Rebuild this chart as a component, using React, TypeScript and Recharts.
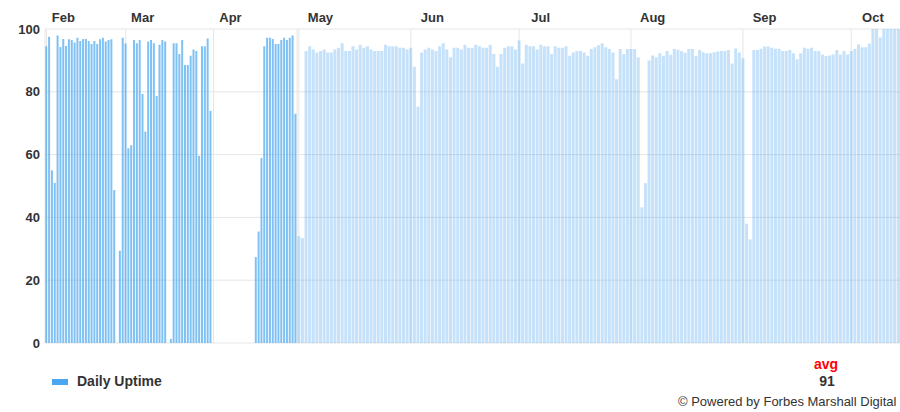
import React from 'react';
import { Bar, BarChart, CartesianGrid, XAxis, YAxis } from 'recharts';

// daily uptime %, one value per day, null = no data
const febUptime = [
  94.5, 97.5, 55, 51, 97.9, 94.3, 96.8, 94.6, 96.7, 96.5, 95.7, 97.2, 96.2, 96.8,
  96.8, 96.2, 95.2, 96.2, 95.2, 96.7, 97.2, 96.0, 96.5, 96.7, 48.7, null, 29.4, 97.2,
];
const marUptime = [
  95.4, 62, 63, 96.5, 95.5, 96.5, 79.3, 67.3, 96, 96.5, 95.5, 78.7, 95, 96.5, 96, null,
  1.3, 95.5, 95.5, 92, 96.5, 88.5, 88.5, 91.5, 93.5, 93, 59.6, 94.5, 94.5, 97, 73.9,
];
const aprUptime = [
  null, null, null, null, null, null, null, null, null, null, null, null, null, null, null,
  27.4, 35.5, 58.9, 94.5, 97.2, 97.2, 96.8, 95.2, 95.2, 96.5, 97.2, 96.5, 97.2, 97.9, 73,
];
const mayUptime = [
  34, 33.4, 93, 94.5, 93.5, 92.5, 93, 93.5, 92.5, 92.5, 93.5, 94, 95.5, 93, 93, 94.5,
  93.5, 95, 94, 94.5, 93.5, 93, 93, 93, 95, 94.5, 94.5, 94.5, 94, 94, 93.5,
];
const junUptime = [
  94, 88, 75.3, 92.5, 93.5, 94, 93.5, 93, 94.5, 95.5, 93.5, 91, 94, 94, 93.5,
  95, 94, 94, 95, 94.5, 94, 94, 95, 92, 88, 92, 94, 94.5, 94.5, 93.5,
];
const julUptime = [
  96.3, 89, 95, 94.5, 94.5, 93.5, 95, 94.5, 94.5, 92, 94.5, 94, 94, 94.5, 91.5, 92.5,
  93, 93, 92.5, 91.5, 93.6, 94.2, 94.8, 95.5, 94.2, 93.6, 92.5, 84, 93.6, 92, 93.6,
];
const augUptime = [
  93.6, 93.6, 91, 43.2, 50.9, 90, 91.6, 91, 92.3, 91.5, 93, 91.8, 93.6, 93.4, 93, 92.4,
  93.6, 93.6, 91.4, 93.3, 92.6, 92.3, 92.3, 92.6, 92.8, 93, 93, 93.3, 89, 93.8, 92.5,
];
const sepUptime = [
  90.7, 38, 33, 93.3, 93.3, 93.7, 94.4, 94.4, 94.0, 93.7, 93.7, 93.0, 93.0, 93.3, 92.3,
  90.4, 92.3, 94.0, 93.7, 94.0, 93.0, 93.0, 91.9, 91.4, 91.6, 91.9, 93.3, 91.9, 93.0, 91.9,
];
const octUptime = [93.0, 93.6, 95.1, 94.2, 94.2, 95.4, 100, 100, 97.3, 100, 100, 100, 100, 100];

const yTicks = [0, 20, 40, 60, 80, 100];
const earlyGridTicks = ['Feb 1', 'Mar 1', 'Apr 1'];
const earlyLabelTicks = ['Feb 7', 'Mar 7', 'Apr 7'];
const lateGridTicks = ['May 1', 'Jun 1', 'Jul 1', 'Aug 1', 'Sep 1', 'Oct 1'];
const lateLabelTicks = ['May 7', 'Jun 7', 'Jul 7', 'Aug 7', 'Sep 7', 'Oct 7'];
const avgLabel = '91';

type Row = { day: string; uptime: number | null };

function toRows(months: [string, (number | null)[]][]): Row[] {
  return months.flatMap(([m, vals]) => vals.map((v, i) => ({ day: `${m} ${i + 1}`, uptime: v })));
}

const earlyData = toRows([['Feb', febUptime], ['Mar', marUptime], ['Apr', aprUptime]]);
const lateData = toRows([
  ['May', mayUptime], ['Jun', junUptime], ['Jul', julUptime],
  ['Aug', augUptime], ['Sep', sepUptime], ['Oct', octUptime],
]);

const BLUE = '#4aa6f0';
const tickStyle = { fill: '#333', fontSize: 13, fontWeight: 'bold' as const };
const monthName = (v: string) => v.split(' ')[0];

function UptimePart({ data, gridTicks, labelTicks, width, showYAxis, opacity }: {
  data: Row[]; gridTicks: string[]; labelTicks: string[]; width: number; showYAxis: boolean; opacity: number;
}) {
  return (
    <BarChart width={width} height={353} data={data} margin={{ top: 0, right: 0, bottom: 10, left: 0 }} barCategoryGap="9%">
      <CartesianGrid stroke="#e6e6e6" xAxisId="days" yAxisId="pct" />
      <XAxis xAxisId="days" dataKey="day" hide ticks={gridTicks} interval={0} />
      <XAxis
        xAxisId="months"
        dataKey="day"
        orientation="top"
        height={29}
        ticks={labelTicks}
        interval={0}
        tickFormatter={monthName}
        axisLine={false}
        tickLine={false}
        tickSize={0}
        tickMargin={7}
        tick={tickStyle}
      />
      <YAxis
        yAxisId="pct"
        hide={!showYAxis}
        width={45}
        domain={[0, 100]}
        ticks={yTicks}
        interval={0}
        axisLine={false}
        tickLine={false}
        tickSize={0}
        tickMargin={5}
        tick={tickStyle}
      />
      <Bar dataKey="uptime" xAxisId="days" yAxisId="pct" fill={BLUE} fillOpacity={opacity} isAnimationActive={false} />
    </BarChart>
  );
}

export default function App() {
  return (
    <div style={{ position: 'absolute', left: 0, top: 0, width: 900, height: 412, overflow: 'hidden', background: '#fff', fontFamily: '"Liberation Sans", Arial, sans-serif' }}>
      <div style={{ position: 'absolute', left: 0, top: 0 }}>
        <UptimePart data={earlyData} gridTicks={earlyGridTicks} labelTicks={earlyLabelTicks} width={297} showYAxis opacity={0.7} />
      </div>
      <div style={{ position: 'absolute', left: 297, top: 0 }}>
        <UptimePart data={lateData} gridTicks={lateGridTicks} labelTicks={lateLabelTicks} width={603} showYAxis={false} opacity={0.32} />
      </div>
      <svg width={900} height={412} style={{ position: 'absolute', left: 0, top: 0, pointerEvents: 'none' }}>
        <rect x={52} y={379} width={16} height={6} fill={BLUE} />
        <text x={77} y={386} fontSize={14} fontWeight="bold" fill="#333">Daily Uptime</text>
        <text x={826} y={369} fontSize={14} fontWeight="bold" fill="#ff0000" textAnchor="middle">avg</text>
        <text x={827} y={386} fontSize={14} fontWeight="bold" fill="#333" textAnchor="middle">{avgLabel}</text>
        <text x={678} y={406} fontSize={13} fill="#333">© Powered by Forbes Marshall Digital</text>
      </svg>
    </div>
  );
}
